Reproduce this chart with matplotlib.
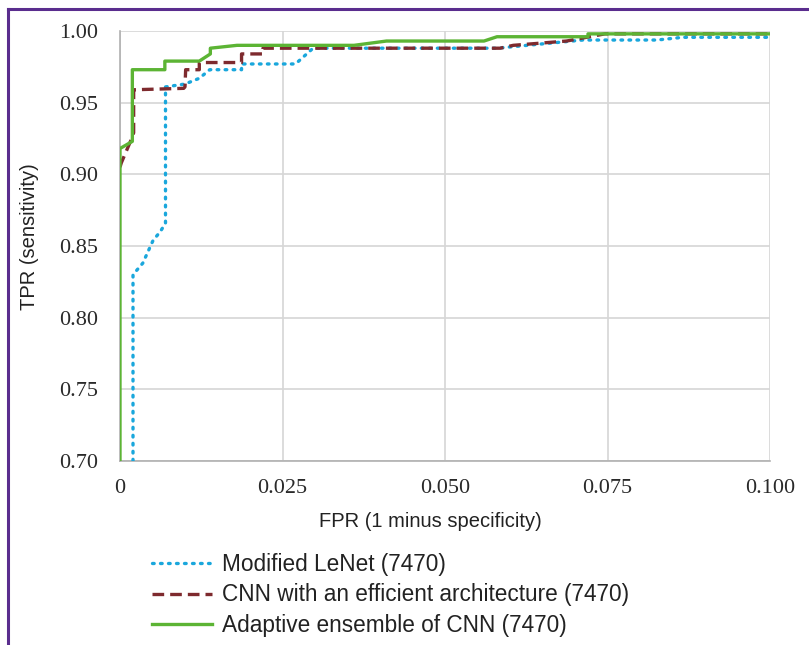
import matplotlib
matplotlib.use("Agg")
import matplotlib.pyplot as plt
from matplotlib.lines import Line2D

# ROC curves (FPR, TPR)
lenet_fpr = [0.002, 0.002, 0.0035, 0.0051, 0.0062, 0.007, 0.007, 0.0100, 0.0122, 0.0138,
             0.0187, 0.0187, 0.027, 0.0297, 0.058, 0.0712, 0.0826, 0.0866, 0.1]
lenet_tpr = [0.70, 0.830, 0.838, 0.854, 0.860, 0.866, 0.961, 0.963, 0.967, 0.973,
             0.973, 0.977, 0.977, 0.988, 0.988, 0.9937, 0.9937, 0.9956, 0.9956]

cnn_fpr = [0, 0.0002, 0.0018, 0.0021, 0.0021, 0.0098, 0.0100, 0.0101, 0.0122, 0.0122,
           0.0187, 0.0187, 0.022, 0.022, 0.0585, 0.0605, 0.0687, 0.0746, 0.1]
cnn_tpr = [0.905, 0.908, 0.925, 0.929, 0.959, 0.960, 0.961, 0.973, 0.973, 0.978,
           0.978, 0.984, 0.984, 0.988, 0.988, 0.990, 0.993, 0.998, 0.998]

ens_fpr = [0, 0, 0.0019, 0.0019, 0.0069, 0.0069, 0.0122, 0.0139, 0.0139, 0.018,
           0.036, 0.041, 0.056, 0.058, 0.072, 0.072, 0.1]
ens_tpr = [0.70, 0.918, 0.923, 0.973, 0.973, 0.979, 0.979, 0.984, 0.988, 0.990,
           0.990, 0.993, 0.993, 0.996, 0.996, 0.998, 0.998]

labels = ["Modified LeNet (7470)",
          "CNN with an efficient architecture (7470)",
          "Adaptive ensemble of CNN (7470)"]

x_ticks = [0, 0.025, 0.05, 0.075, 0.1]
x_ticklabels = ["0", "0.025", "0.050", "0.075", "0.100"]
y_ticks = [0.70, 0.75, 0.80, 0.85, 0.90, 0.95, 1.00]
y_ticklabels = ["0.70", "0.75", "0.80", "0.85", "0.90", "0.95", "1.00"]

W, H = 809, 645
fig = plt.figure(figsize=(W / 100, H / 100), dpi=100)
ax = fig.add_axes([120 / W, 1 - 461 / H, 650 / W, 430 / H])

ax.plot(lenet_fpr, lenet_tpr, color="#1aa7dc", lw=2.4, ls=(0, (0.5, 1.9)),
        dash_capstyle="round", label=labels[0], zorder=3)
ax.plot(cnn_fpr, cnn_tpr, color="#7e2a2e", lw=2.4, ls=(0, (3.5, 1.8)),
        label=labels[1], zorder=4)
ax.plot(ens_fpr, ens_tpr, color="#5cb434", lw=2.4, label=labels[2], zorder=5)

ax.set_xlim(0, 0.1)
ax.set_ylim(0.70, 1.00)
ax.set_xticks(x_ticks)
ax.set_xticklabels(x_ticklabels)
ax.set_yticks(y_ticks)
ax.set_yticklabels(y_ticklabels)
ax.tick_params(axis="both", length=0, labelsize=16, colors="#2a2a2a")
ax.tick_params(axis="x", pad=13)
ax.tick_params(axis="y", pad=16)
for t in ax.get_xticklabels() + ax.get_yticklabels():
    t.set_family("Liberation Serif")

ax.grid(True, color="#d6d6d6", lw=1.2)
ax.set_axisbelow(True)
for side in ["top", "right"]:
    ax.spines[side].set_visible(False)
for side in ["left", "bottom"]:
    ax.spines[side].set_color("#b0b0b0")
    ax.spines[side].set_linewidth(1.2)

ax.set_xlabel("FPR (1 minus specificity)", family="Liberation Sans",
              fontsize=14.5, color="#222222")
ax.set_ylabel("TPR (sensitivity)", family="Liberation Sans",
              fontsize=14.5, color="#222222")
ax.xaxis.set_label_coords(0.477, -0.118)
ax.yaxis.set_label_coords(-0.125, 0.521)

fig.legend(loc="upper left", bbox_to_anchor=(152 / W, 1 - 553 / H),
           frameon=False, borderpad=0, borderaxespad=0,
           handlelength=2.65, handletextpad=0.45, labelspacing=0.33,
           prop={"family": "Liberation Sans", "size": 16.3})
for t in fig.legends[0].get_texts():
    t.set_color("#222222")

# purple frame (left and top edges)
purple = "#5a2d8e"
fig.add_artist(Line2D([8 / W, 8 / W], [0, 1 - 9 / H], color=purple, lw=2.2,
                      transform=fig.transFigure))
fig.add_artist(Line2D([8 / W, 1], [1 - 9 / H, 1 - 9 / H], color=purple, lw=2.2,
                      transform=fig.transFigure))

fig.savefig("out.png", dpi=100, facecolor="white")
